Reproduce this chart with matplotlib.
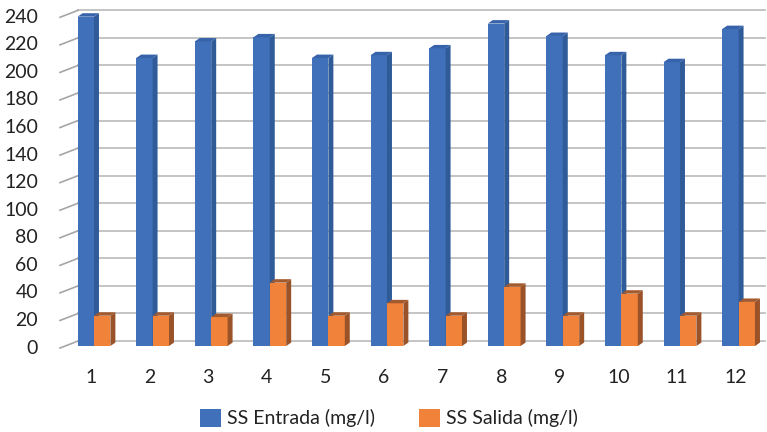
import matplotlib
matplotlib.use("Agg")
import matplotlib.pyplot as plt
from matplotlib.patches import Polygon, Patch
import numpy as np

# Data
months = [1, 2, 3, 4, 5, 6, 7, 8, 9, 10, 11, 12]
ss_entrada = [239, 209, 221, 224, 209, 211, 216, 234, 225, 211, 206, 230]
ss_salida = [22, 22, 21, 46, 22, 31, 22, 43, 22, 38, 22, 32]
y_ticks = [0, 20, 40, 60, 80, 100, 120, 140, 160, 180, 200, 220, 240]
labels = ["SS Entrada (mg/l)", "SS Salida (mg/l)"]

plt.rcParams['font.family'] = ['Lato', 'DejaVu Sans']

blue_front, blue_side, blue_top = '#4070BA', '#2F5B98', '#3763AA'
orng_front, orng_side, orng_top = '#F0823A', '#9A5228', '#A35A2E'

fig = plt.figure(figsize=(7.67, 4.32), dpi=100)
ax = fig.add_axes([0, 0, 1, 1])
ax.set_xlim(-0.604, 12.485)
ax.set_ylim(-62.4, 251.1)
ax.axis('off')

# depth of the 3D effect (data units)
dx, dy = 0.085, 2.5
back_x0, back_x1, front_x0 = 0.727, 12.45, 0.42
back_off, front_off = 3.6, -1.45

# walls / gridlines
for v in y_ticks:
    ax.plot([back_x0, back_x1], [v + back_off, v + back_off], color='#BFBFBF', lw=1.3, zorder=1)
    ax.plot([front_x0, back_x0], [v + front_off, v + back_off], color='#A6A6A6', lw=1.2, zorder=1)
    ax.text(0.044, v + front_off, str(v), ha='right', va='center', fontsize=14, color='#222222')

w = 0.28
x = np.array(months, dtype=float)


def bar3d(xs, vals, front, side, top, z):
    ax.bar(xs, vals, width=w, align='edge', color=front, zorder=z, linewidth=0)
    for xi, v in zip(xs, vals):
        ax.add_patch(Polygon([(xi + w, 0), (xi + w + dx, dy), (xi + w + dx, v + dy), (xi + w, v)],
                             closed=True, facecolor=side, edgecolor='none', zorder=z))
        ax.add_patch(Polygon([(xi, v), (xi + dx, v + dy), (xi + w + dx, v + dy), (xi + w, v)],
                             closed=True, facecolor=top, edgecolor='none', zorder=z))


bar3d(x - w, ss_entrada, blue_front, blue_side, blue_top, 2)
bar3d(x, ss_salida, orng_front, orng_side, orng_top, 3)

for m in months:
    ax.text(m - 0.05, -23.2, str(m), ha='center', va='center', fontsize=14, color='#222222')

handles = [Patch(facecolor=blue_front), Patch(facecolor=orng_front)]
fig.legend(handles, labels, loc='center', bbox_to_anchor=(389 / 767, 1 - 418 / 432), ncol=2,
           frameon=False, fontsize=14, handlelength=1.05, handleheight=1.05,
           handletextpad=0.3, columnspacing=2.3, labelcolor='#222222')

fig.savefig('out.png', dpi=100)
